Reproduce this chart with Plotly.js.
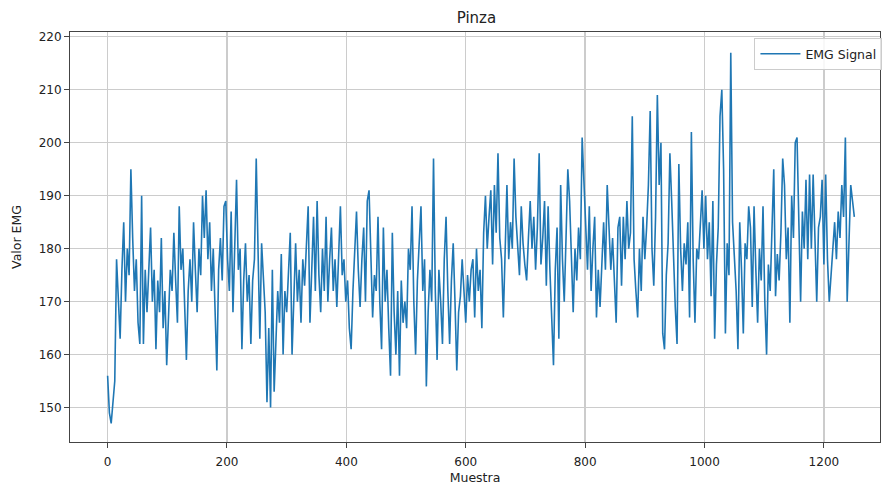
<!DOCTYPE html>
<html>
<head>
<meta charset="utf-8">
<script src="https://cdn.plot.ly/plotly-3.0.1.min.js"></script>
<style>html,body{margin:0;padding:0;background:#fff;overflow:hidden;}</style>
</head>
<body>
<div id="chart" style="width:884px;height:489px;"></div>
<script>
const sampleStep = 3;
const emgValues = [
156,149,147,152,155,178,170,163,176,185,170,180,175,195,182,172,178,166,162,190,162,176,168,178,184,170,176,161,174,168,182,165,172,158,
168,176,172,183,174,166,188,176,180,168,159,172,178,170,185,176,168,180,175,190,182,191,178,185,172,180,170,157,176,182,174,188,189,
178,172,187,168,180,193,176,180,161,174,181,170,175,162,174,178,197,176,163,181,175,168,151,165,150,176,153,164,172,166,179,160,172,168,
176,183,160,172,181,170,176,166,178,173,180,188,166,176,186,172,189,175,168,180,172,186,170,178,184,172,178,169,180,188,175,178,170,
174,165,161,172,180,187,176,169,178,184,170,189,191,178,167,175,172,186,170,161,184,170,176,165,156,183,168,160,172,156,174,166,170,165,
180,176,188,170,160,174,180,188,172,178,154,168,176,170,197,172,159,176,170,162,178,186,172,162,174,181,170,157,168,171,178,172,166,
175,170,176,178,167,180,172,176,165,183,190,180,186,191,177,192,183,198,182,178,167,182,192,178,185,180,197,186,180,175,188,181,177,
174,182,189,180,186,176,184,198,177,182,189,173,188,176,168,158,176,184,163,192,178,170,182,195,189,176,168,180,174,184,178,201,192,183,
176,188,172,180,186,167,176,169,178,185,176,192,184,176,182,174,166,184,186,173,186,178,189,180,183,205,178,172,167,180,172,186,178,
184,192,206,180,173,186,209,192,200,164,161,175,181,198,189,178,169,162,196,180,172,181,177,185,167,202,178,166,180,178,184,191,180,
190,178,185,171,189,163,177,184,205,210,195,164,181,175,217,185,178,172,161,185,176,164,181,178,188,184,169,188,176,166,180,174,188,170,
160,177,172,184,195,171,179,174,183,197,192,178,184,166,190,182,200,201,185,170,187,180,193,178,194,180,194,184,170,184,186,193,177,
194,178,170,175,178,185,178,187,182,192,186,201,170,180,192,189,186
];
const sampleIndex = emgValues.map((v, i) => i * sampleStep);
const xTicks = [0, 200, 400, 600, 800, 1000, 1200];
const yTicks = [150, 160, 170, 180, 190, 200, 210, 220];

const trace = {
  x: sampleIndex,
  y: emgValues,
  type: 'scatter',
  mode: 'lines',
  name: 'EMG Signal',
  line: {color: '#1f77b4', width: 1.6}
};

const axisCommon = {
  showgrid: true,
  gridcolor: '#cccccc',
  gridwidth: 1.3,
  zeroline: false,
  showline: true,
  linecolor: '#444',
  linewidth: 1,
  mirror: true,
  ticks: 'outside',
  ticklen: 5,
  tickcolor: '#444',
  tickfont: {family: 'DejaVu Sans, sans-serif', size: 12, color: '#222'}
};

const layout = {
  width: 884,
  height: 489,
  margin: {l: 70, r: 2, t: 32, b: 47},
  paper_bgcolor: '#fff',
  plot_bgcolor: '#fff',
  title: {text: 'Pinza', xref: 'container', x: 0.539, xanchor: 'center', y: 0.963, yanchor: 'middle',
          font: {family: 'DejaVu Sans, sans-serif', size: 15, color: '#222'}},
  xaxis: Object.assign({}, axisCommon, {
    range: [-63, 1294],
    tickvals: xTicks,
    ticklabelstandoff: 4,
    title: {text: 'Muestra', standoff: 4, font: {family: 'DejaVu Sans, sans-serif', size: 12.5, color: '#222'}}
  }),
  yaxis: Object.assign({}, axisCommon, {
    range: [143.5, 220.9],
    tickvals: yTicks,
    title: {text: 'Valor EMG', standoff: 14, font: {family: 'DejaVu Sans, sans-serif', size: 12.5, color: '#222'}}
  }),
  showlegend: true,
  legend: {
    x: 1.003, xanchor: 'right', y: 0.985, yanchor: 'top',
    bgcolor: 'rgba(255,255,255,0.85)',
    bordercolor: '#ccc',
    borderwidth: 1,
    itemwidth: 40,
    font: {family: 'DejaVu Sans, sans-serif', size: 12.5, color: '#222'}
  }
};

Plotly.newPlot('chart', [trace], layout, {displayModeBar: false, staticPlot: true});
</script>
</body>
</html>
